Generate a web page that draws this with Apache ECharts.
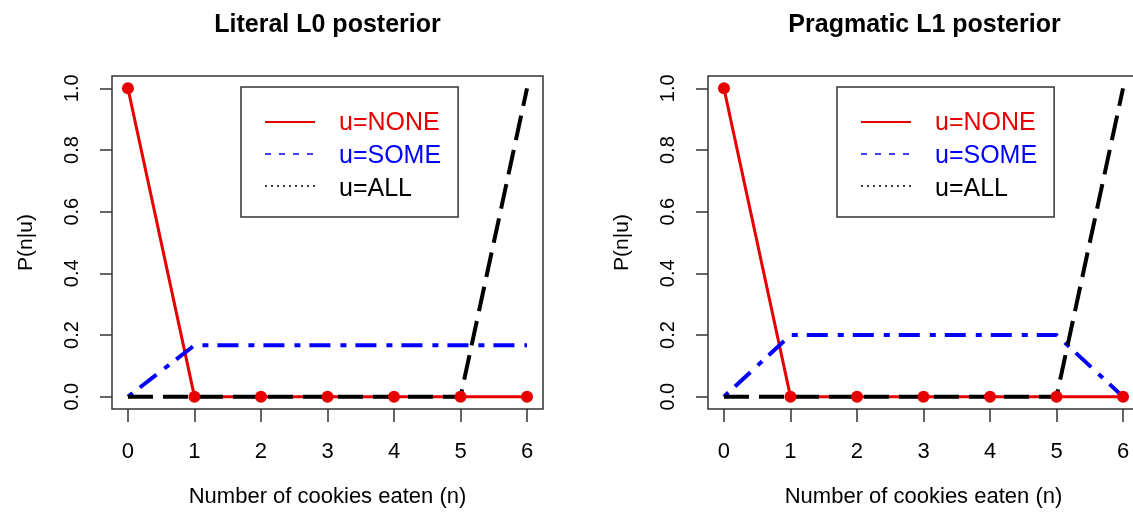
<!DOCTYPE html>
<html>
<head>
<meta charset="utf-8">
<script src="https://cdn.jsdelivr.net/npm/echarts@6/dist/echarts.min.js"></script>
<style>
  html, body { margin: 0; padding: 0; background: #fff; overflow: hidden; }
  /* wider than the window: the right panel's box runs past the edge, like the source */
  #chart { width: 1145px; height: 517px; }
</style>
</head>
<body>
<div id="chart"></div>
<script>
// number of cookies eaten
var nValues = [0, 1, 2, 3, 4, 5, 6];
// literal listener L0
var literalNone = [1, 0, 0, 0, 0, 0, 0];
var literalSome = [0, 0.1667, 0.1667, 0.1667, 0.1667, 0.1667, 0.1667];
var literalAll = [0, 0, 0, 0, 0, 0, 1];
// pragmatic listener L1
var pragNone = [1, 0, 0, 0, 0, 0, 0];
var pragSome = [0, 0.2, 0.2, 0.2, 0.2, 0.2, 0];
var pragAll = [0, 0, 0, 0, 0, 0, 1];
// axis ticks
var xTicks = [0, 1, 2, 3, 4, 5, 6];
var yTicks = [0, 0.2, 0.4, 0.6, 0.8, 1.0];
var seriesNames = ['u=NONE', 'u=SOME', 'u=ALL'];

var FONT = "'Liberation Sans', Arial, sans-serif";
var RED = '#e60000', BLUE = '#0000ff', BLACK = '#000000';

function pairs(ys) {
  return nValues.map(function (n, i) { return [n, ys[i]]; });
}

// one panel = grid + x axis + y axis
var panelLeft = [112, 708];
var boxW = 431, boxTop = 76, boxH = 333;

function makeX(i) {
  return {
    gridIndex: i, type: 'value', min: -0.24, max: 6.24,
    name: 'Number of cookies eaten (n)', nameLocation: 'middle', nameGap: 77,
    nameTextStyle: { fontFamily: FONT, fontSize: 22, color: '#000' },
    axisLine: { show: false, onZero: false },
    axisTick: { show: true, customValues: xTicks, length: 13, lineStyle: { color: '#333', width: 1.5 } },
    axisLabel: { customValues: xTicks, margin: 32, fontFamily: FONT, fontSize: 22, color: '#000' },
    splitLine: { show: false }
  };
}
function makeY(i) {
  return {
    gridIndex: i, type: 'value', min: -0.04, max: 1.04,
    name: 'P(n|u)', nameLocation: 'middle', nameGap: 75, nameRotate: 90,
    nameTextStyle: { fontFamily: FONT, fontSize: 21, color: '#000' },
    axisLine: { show: false, onZero: false },
    axisTick: { show: true, customValues: yTicks, length: 12, lineStyle: { color: '#333', width: 1.5 } },
    axisLabel: {
      customValues: yTicks, rotate: 90, margin: 30, fontFamily: FONT, fontSize: 20, color: '#000',
      formatter: function (v) { return v.toFixed(1); }
    },
    splitLine: { show: false }
  };
}
function makeSeries(i, none, some, all) {
  return [
    {
      name: seriesNames[0], type: 'line', xAxisIndex: i, yAxisIndex: i, data: pairs(none),
      color: RED, symbol: 'circle', symbolSize: 12, showAllSymbol: true,
      lineStyle: { width: 3, color: RED }, itemStyle: { color: RED }, silent: true, animation: false
    },
    {
      name: seriesNames[1], type: 'line', xAxisIndex: i, yAxisIndex: i, data: pairs(some),
      color: BLUE, showSymbol: false,
      lineStyle: { width: 4, color: BLUE, type: [6, 9, 21, 10] }, silent: true, animation: false
    },
    {
      name: seriesNames[2], type: 'line', xAxisIndex: i, yAxisIndex: i, data: pairs(all),
      color: BLACK, showSymbol: false,
      lineStyle: { width: 4, color: BLACK, type: [25, 10] }, silent: true, animation: false
    }
  ];
}
// legend text comes from the legend component; the R-style line samples
// (solid / dashed / dotted, as in the original key) are drawn next to it
function makeLegend(left) {
  return {
    left: left, top: 87, orient: 'vertical',
    backgroundColor: '#fff', borderColor: '#333', borderWidth: 1.5,
    padding: [24, 17, 15, 24], itemGap: 8,
    itemWidth: 50, itemHeight: 2, selectedMode: false, icon: 'none',
    textStyle: { fontFamily: FONT, fontSize: 25, lineHeight: 25, padding: [0, 0, 0, 19] },
    data: [
      { name: seriesNames[0], textStyle: { color: RED } },
      { name: seriesNames[1], textStyle: { color: BLUE } },
      { name: seriesNames[2], textStyle: { color: BLACK } }
    ]
  };
}
var keyStyles = [
  { color: RED, width: 2, dash: null },
  { color: BLUE, width: 1.5, dash: [6, 8] },
  { color: BLACK, width: 1.5, dash: [2, 4] }
];
function keySamples(left) {
  return keyStyles.map(function (s, k) {
    var y = 122 + k * 32;
    return {
      type: 'line', z: 100, silent: true,
      shape: { x1: left + 24, y1: y, x2: left + 74, y2: y },
      style: { stroke: s.color, lineWidth: s.width, lineDash: s.dash }
    };
  });
}

var option = {
  backgroundColor: '#fff',
  animation: false,
  title: [
    { text: 'Literal L0 posterior', left: panelLeft[0] + boxW / 2 - 5, top: 8, textAlign: 'center',
      textStyle: { fontFamily: FONT, fontSize: 25, fontWeight: 'bold', color: '#000' } },
    { text: 'Pragmatic L1 posterior', left: panelLeft[1] + boxW / 2 - 4, top: 8, textAlign: 'center',
      textStyle: { fontFamily: FONT, fontSize: 25, fontWeight: 'bold', color: '#000' } }
  ],
  grid: [
    { left: panelLeft[0], top: boxTop, width: boxW, height: boxH, show: true, borderColor: '#333', borderWidth: 1.5, backgroundColor: 'transparent' },
    { left: panelLeft[1], top: boxTop, width: boxW, height: boxH, show: true, borderColor: '#333', borderWidth: 1.5, backgroundColor: 'transparent' }
  ],
  legend: [makeLegend(241), makeLegend(837)],
  graphic: keySamples(241).concat(keySamples(837)),
  xAxis: [makeX(0), makeX(1)],
  yAxis: [makeY(0), makeY(1)],
  series: makeSeries(0, literalNone, literalSome, literalAll)
    .concat(makeSeries(1, pragNone, pragSome, pragAll))
};

var chart = echarts.init(document.getElementById('chart'), null, { renderer: 'canvas' });
chart.setOption(option);
</script>
</body>
</html>
